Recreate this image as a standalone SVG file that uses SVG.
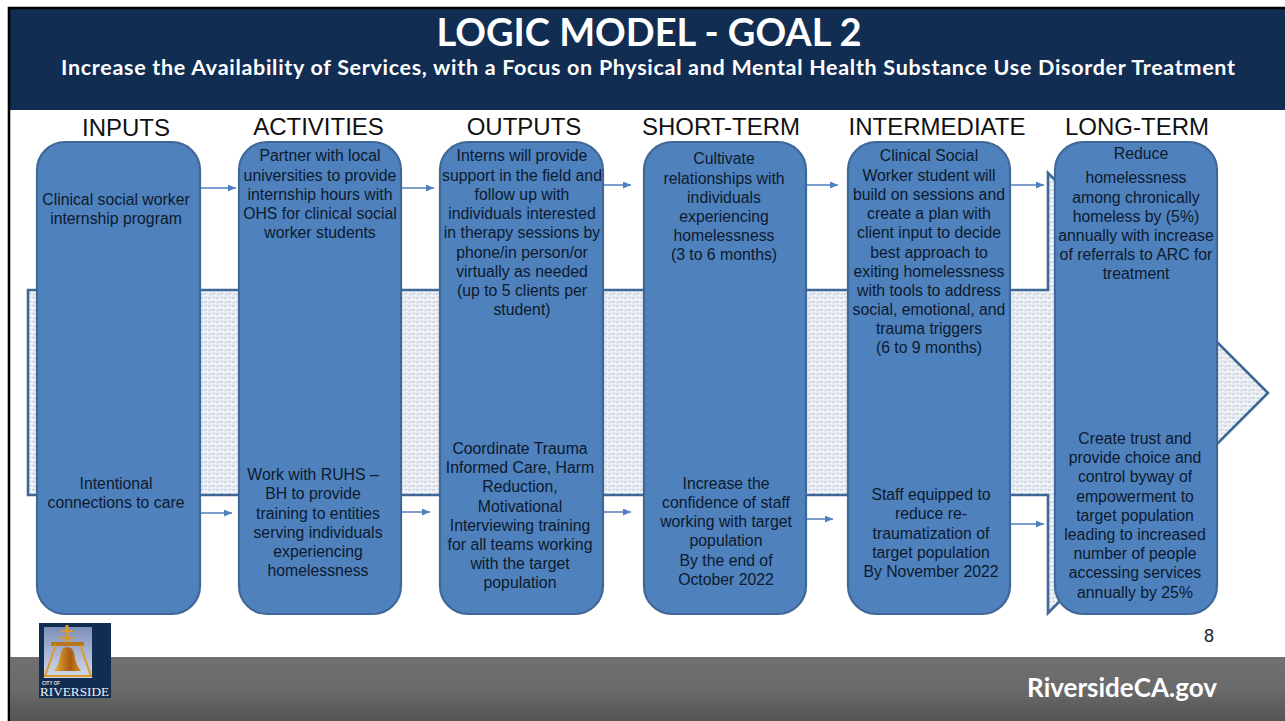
<svg xmlns="http://www.w3.org/2000/svg" width="1285" height="721" viewBox="0 0 1285 721">
<style>
.hd{font:24px "Liberation Sans",Arial,sans-serif;fill:#111;text-anchor:middle}
.b{font:15.8px "Liberation Sans",Arial,sans-serif;fill:#0c1a2e;text-anchor:middle}
.box{fill:#4f81bd;stroke:#3f6897;stroke-width:2.2}
.cn{fill:none;stroke:#4f81bd;stroke-width:1.5;marker-end:url(#ah)}
</style>
<defs>
<marker id="ah" markerWidth="9" markerHeight="8" refX="8" refY="3.5" orient="auto" markerUnits="userSpaceOnUse"><path d="M0,0 L8,3.5 L0,7 Z" fill="#4f81bd"/></marker>
<pattern id="dots" width="8" height="8" patternUnits="userSpaceOnUse"><rect width="8" height="8" fill="#eff2f6"/><path d="M0,3 Q1.500,0.500 3,2 M4,7 Q5.500,4.500 7,6 M5,2 L7,1 M1,7 L3,5.500" fill="none" stroke="#c3ccd9" stroke-width="1.2"/></pattern>
<linearGradient id="ft" x1="0" y1="0" x2="0" y2="1"><stop offset="0" stop-color="#707070"/><stop offset="0.5" stop-color="#6a6a6a"/><stop offset="1" stop-color="#545454"/></linearGradient>
<linearGradient id="sky" x1="0" y1="0" x2="0" y2="1"><stop offset="0" stop-color="#7d8fb8"/><stop offset="1" stop-color="#d5dcea"/></linearGradient>
<linearGradient id="bell" x1="0" y1="0" x2="1" y2="0"><stop offset="0" stop-color="#e8b13a"/><stop offset="0.6" stop-color="#a85a12"/><stop offset="1" stop-color="#d98f24"/></linearGradient>
</defs>
<rect width="1285" height="721" fill="#fff"/>
<g id="header">
<rect x="9" y="8" width="1276" height="102" fill="#112d52"/>
<path d="M1285,8 H9 V721" fill="none" stroke="#000" stroke-width="2.6"/>
<text x="649" y="46" text-anchor="middle" style="font:bold 38px Lato,'Open Sans',sans-serif;fill:#fff">LOGIC MODEL - GOAL 2</text>
<text x="648" y="75" text-anchor="middle" style="font:bold 21.500px Lato,'Open Sans',sans-serif;fill:#fff" textLength="1174" lengthAdjust="spacing">Increase the Availability of Services, with a Focus on Physical and Mental Health Substance Use Disorder Treatment</text>
</g>
<g id="footer">
<rect x="10" y="657" width="1275" height="64" fill="url(#ft)"/>
<text x="1122" y="697" text-anchor="middle" style="font:bold 26px Lato,'Open Sans',sans-serif;fill:#fff">RiversideCA.gov</text>
<text x="1209" y="642" text-anchor="middle" style="font:18px 'Liberation Sans',Arial,sans-serif;fill:#222">8</text>
</g>
<g id="logo">
<rect x="39" y="623" width="72" height="75" fill="#112d52"/>
<rect x="44" y="627" width="48" height="51" fill="url(#sky)"/>
<g fill="none" stroke="#d99a2b">
<path d="M67,625 V643" stroke-width="3"/>
<path d="M61,631 H73 M60,638 H74" stroke-width="2"/>
<path d="M51,644 H84" stroke-width="4" stroke="#b9761e"/>
<path d="M56,645 L45,676 H91 L80,645" stroke-width="2"/>
</g>
<path d="M67,647 C60,647 61,656 59,662 C58,666 55,669 54,671 H81 C80,669 77,666 76,662 C74,656 75,647 67,647 Z" fill="url(#bell)"/>
<text x="42" y="685" style="font:bold 4.600px 'Liberation Sans',Arial,sans-serif;fill:#dfe6f0">CITY OF</text>
<text x="40" y="696" textLength="69" lengthAdjust="spacingAndGlyphs" style="font:13px 'Liberation Serif',serif;fill:#eef2f7">RIVERSIDE</text>
</g>
<g id="band">
<path d="M28,290 H1048 V173 L1268,393 L1048,613 V495 H28 Z" fill="url(#dots)" stroke="#3f6897" stroke-width="2.600"/>
</g>
<g id="headings">
<text class="hd" x="126" y="136">INPUTS</text>
<text class="hd" x="318.500" y="135">ACTIVITIES</text>
<text class="hd" x="524" y="135">OUTPUTS</text>
<text class="hd" x="721" y="135">SHORT-TERM</text>
<text class="hd" x="937" y="135">INTERMEDIATE</text>
<text class="hd" x="1137" y="135">LONG-TERM</text>
</g>
<g id="connectors">
<path class="cn" d="M200,188 H236"/><path class="cn" d="M401,188 H434"/><path class="cn" d="M603,185 H631"/><path class="cn" d="M806,185 H838"/><path class="cn" d="M1010,185 H1044"/>
<path class="cn" d="M200,513 H232"/><path class="cn" d="M401,512 H430"/><path class="cn" d="M603,512 H631"/><path class="cn" d="M806,519 H833"/><path class="cn" d="M1010,524 H1044"/>
</g>
<g id="inputs">
<rect class="box" x="37" y="142" width="163" height="472" rx="28"/>
<text class="b"><tspan x="116" y="205">Clinical social worker</tspan><tspan x="116" y="224">internship program</tspan></text>
<text class="b"><tspan x="116" y="489">Intentional</tspan><tspan x="116" y="508">connections to care</tspan></text>
</g>
<g id="activities">
<rect class="box" x="239" y="142" width="162" height="472" rx="28"/>
<text class="b"><tspan x="320" y="161">Partner with local</tspan><tspan x="320" y="181">universities to provide</tspan><tspan x="320" y="200">internship hours with</tspan><tspan x="320" y="219">OHS for clinical social</tspan><tspan x="320" y="238">worker students</tspan></text>
<text class="b"><tspan x="313" y="480">Work with RUHS –</tspan><tspan x="313" y="499">BH to provide</tspan><tspan x="318" y="519">training to entities</tspan><tspan x="318" y="538">serving individuals</tspan><tspan x="318" y="557">experiencing</tspan><tspan x="318" y="576">homelessness</tspan></text>
</g>
<g id="outputs">
<rect class="box" x="440" y="142" width="163" height="472" rx="28"/>
<text class="b"><tspan x="522" y="161">Interns will provide</tspan><tspan x="522" y="181">support in the field and</tspan><tspan x="522" y="200">follow up with</tspan><tspan x="522" y="219">individuals interested</tspan><tspan x="522" y="238">in therapy sessions by</tspan><tspan x="522" y="258">phone/in person/or</tspan><tspan x="522" y="277">virtually as needed</tspan><tspan x="522" y="296">(up to 5 clients per</tspan><tspan x="522" y="315">student)</tspan></text>
<text class="b"><tspan x="520" y="454">Coordinate Trauma</tspan><tspan x="520" y="473">Informed Care, Harm</tspan><tspan x="520" y="492">Reduction,</tspan><tspan x="520" y="512">Motivational</tspan><tspan x="520" y="531">Interviewing training</tspan><tspan x="520" y="550">for all teams working</tspan><tspan x="520" y="569">with the target</tspan><tspan x="520" y="588">population</tspan></text>
</g>
<g id="short-term">
<rect class="box" x="644" y="142" width="162" height="472" rx="28"/>
<text class="b"><tspan x="724" y="164">Cultivate</tspan><tspan x="724" y="184">relationships with</tspan><tspan x="724" y="203">individuals</tspan><tspan x="724" y="222">experiencing</tspan><tspan x="724" y="241">homelessness</tspan><tspan x="724" y="260">(3 to 6 months)</tspan></text>
<text class="b"><tspan x="726" y="489">Increase the</tspan><tspan x="726" y="508">confidence of staff</tspan><tspan x="726" y="527">working with target</tspan><tspan x="726" y="546">population</tspan><tspan x="726" y="566">By the end of</tspan><tspan x="726" y="585">October 2022</tspan></text>
</g>
<g id="intermediate">
<rect class="box" x="848" y="142" width="162" height="472" rx="28"/>
<text class="b"><tspan x="929" y="161">Clinical Social</tspan><tspan x="929" y="181">Worker student will</tspan><tspan x="929" y="200">build on sessions and</tspan><tspan x="929" y="219">create a plan with</tspan><tspan x="929" y="238">client input to decide</tspan><tspan x="929" y="258">best approach to</tspan><tspan x="929" y="277">exiting homelessness</tspan><tspan x="929" y="296">with tools to address</tspan><tspan x="929" y="315">social, emotional, and</tspan><tspan x="929" y="334">trauma triggers</tspan><tspan x="929" y="353">(6 to 9 months)</tspan></text>
<text class="b"><tspan x="931" y="500">Staff equipped to</tspan><tspan x="931" y="519">reduce re-</tspan><tspan x="931" y="539">traumatization of</tspan><tspan x="931" y="558">target population</tspan><tspan x="931" y="577">By November 2022</tspan></text>
</g>
<g id="long-term">
<rect class="box" x="1055" y="142" width="162" height="472" rx="28"/>
<text class="b"><tspan x="1141" y="159">Reduce</tspan><tspan x="1136" y="183">homelessness</tspan><tspan x="1136" y="203">among chronically</tspan><tspan x="1136" y="222">homeless by (5%)</tspan><tspan x="1136" y="241">annually with increase</tspan><tspan x="1136" y="260">of referrals to ARC for</tspan><tspan x="1136" y="279">treatment</tspan></text>
<text class="b"><tspan x="1135" y="444">Create trust and</tspan><tspan x="1135" y="463">provide choice and</tspan><tspan x="1135" y="482">control byway of</tspan><tspan x="1135" y="502">empowerment to</tspan><tspan x="1135" y="521">target population</tspan><tspan x="1135" y="540">leading to increased</tspan><tspan x="1135" y="559">number of people</tspan><tspan x="1135" y="578">accessing services</tspan><tspan x="1135" y="598">annually by 25%</tspan></text>
</g>
</svg>
